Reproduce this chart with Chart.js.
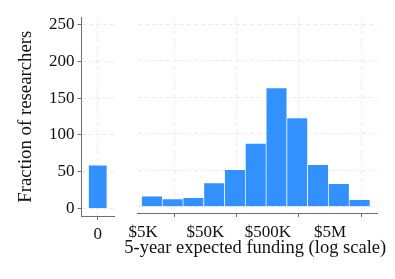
<!DOCTYPE html>
<html><head><meta charset="utf-8">
<script src="https://cdn.jsdelivr.net/npm/chart.js@4/dist/chart.umd.min.js"></script>
<style>
html,body{margin:0;padding:0;background:#fff;}
#wrap{position:relative;width:395px;height:279px;overflow:hidden;background:#fff;}
canvas{position:absolute;top:0;}
#left{left:0;}
#right{left:120px;}
</style></head><body>
<div id="wrap"><canvas id="left" width="120" height="279"></canvas><canvas id="right" width="275" height="279"></canvas></div>
<script>
// ---- data ----
const zeroCategory = ['0'];
const zeroCount = [60];
const binCenters = [6813, 14678, 31623, 68129, 146780, 316228, 681292, 1467799, 3162278, 6812921, 14677993];
const binCounts = [15, 11, 13, 33, 51, 87, 163, 122, 58, 32, 10];
const xTickValues = [5000, 50000, 500000, 5000000];
const xTickLabels = ['$5K', '$50K', '$500K', '$5M'];
const yTickValues = [0, 50, 100, 150, 200, 250];
const yTitle = 'Fraction of researchers';
const xTitle = '5-year expected funding (log scale)';

// ---- styles ----
const FONT = "'Liberation Serif', 'Times New Roman', serif";
const TEXT = '#111';
const GRID = '#ebebeb';
const AXIS = '#6e6e6e';
const BAR = '#3390ff';
const BAR_EDGE = 'rgba(255,255,255,0.3)';
const BAR_BORDER = { top: 1, left: 1, right: 0, bottom: 0 };

Chart.defaults.font.family = FONT;
Chart.defaults.color = TEXT;

function setTicks(values) { return s => { s.ticks = values.map(v => ({ value: v })); }; }

// x-axis title drawn without Chart.js's maxWidth squeeze
const xTitlePlugin = {
  id: 'xTitle',
  afterDraw(chart, args, opts) {
    const { ctx, chartArea } = chart;
    ctx.save();
    ctx.font = `${opts.size}px ${FONT}`;
    ctx.fillStyle = TEXT;
    ctx.textAlign = 'center';
    ctx.textBaseline = 'alphabetic';
    ctx.fillText(opts.text, (chartArea.left + chartArea.right) / 2 + opts.shift, chartArea.bottom + opts.gap);
    ctx.restore();
  }
};

new Chart(document.getElementById('left'), {
  type: 'bar',
  data: { labels: zeroCategory, datasets: [{ data: zeroCount, backgroundColor: BAR, borderColor: BAR_EDGE, borderWidth: { top: 1, left: 1, right: 1, bottom: 0 }, barPercentage: 0.61, categoryPercentage: 1 }] },
  options: {
    responsive: false, animation: false,
    layout: { padding: { left: 0, right: 6, top: 17.3, bottom: 0 } },
    plugins: { legend: { display: false }, tooltip: { enabled: false } },
    scales: {
      x: {
        offset: true,
        grid: { offset: false, color: GRID, tickColor: AXIS, tickLength: 4, tickBorderDash: [] },
        border: { color: AXIS, dash: [4, 3] },
        ticks: { font: { size: 17 }, padding: 4, maxRotation: 0 },
        afterFit: s => { s.height = 63; }
      },
      y: {
        min: -9.9, max: 259.5,
        afterBuildTicks: setTicks(yTickValues),
        grid: { color: GRID, tickColor: AXIS, tickLength: 4, tickBorderDash: [] },
        border: { color: AXIS, dash: [4, 3] },
        ticks: { font: { size: 17 }, padding: 3 },
        title: { display: true, text: yTitle, font: { size: 18.8 }, padding: { top: 14.5, bottom: 0 } },
        afterFit: s => { s.width = 81.5; }
      }
    }
  }
});

new Chart(document.getElementById('right'), {
  type: 'bar',
  data: { datasets: [{ data: binCenters.map((c, i) => ({ x: c, y: binCounts[i] })), backgroundColor: BAR, borderColor: BAR_EDGE, borderWidth: BAR_BORDER, barPercentage: 1, categoryPercentage: 1 }] },
  plugins: [xTitlePlugin],
  options: {
    responsive: false, animation: false,
    layout: { padding: { left: 17.5, right: 17.5, top: 16.7, bottom: 0 } },
    plugins: { legend: { display: false }, tooltip: { enabled: false }, xTitle: { text: xTitle, size: 18.5, shift: -2.3, gap: 40.3 } },
    scales: {
      x: {
        type: 'logarithmic', min: 4050, max: 28800000,
        afterBuildTicks: setTicks(xTickValues),
        grid: { color: GRID, tickColor: AXIS, tickLength: 4, tickBorderDash: [] },
        border: { color: AXIS, dash: [4, 3] },
        ticks: { font: { size: 17 }, padding: 5, autoSkip: false, maxRotation: 0, callback: (v, i) => xTickLabels[i] },
        afterFit: s => { s.height = 66; }
      },
      y: {
        min: -8.6, max: 260,
        afterBuildTicks: setTicks(yTickValues),
        ticks: { display: false },
        grid: { color: GRID, drawTicks: false },
        border: { display: false, dash: [4, 3] },
        afterFit: s => { s.width = 0; }
      }
    }
  }
});
</script>
</body></html>
